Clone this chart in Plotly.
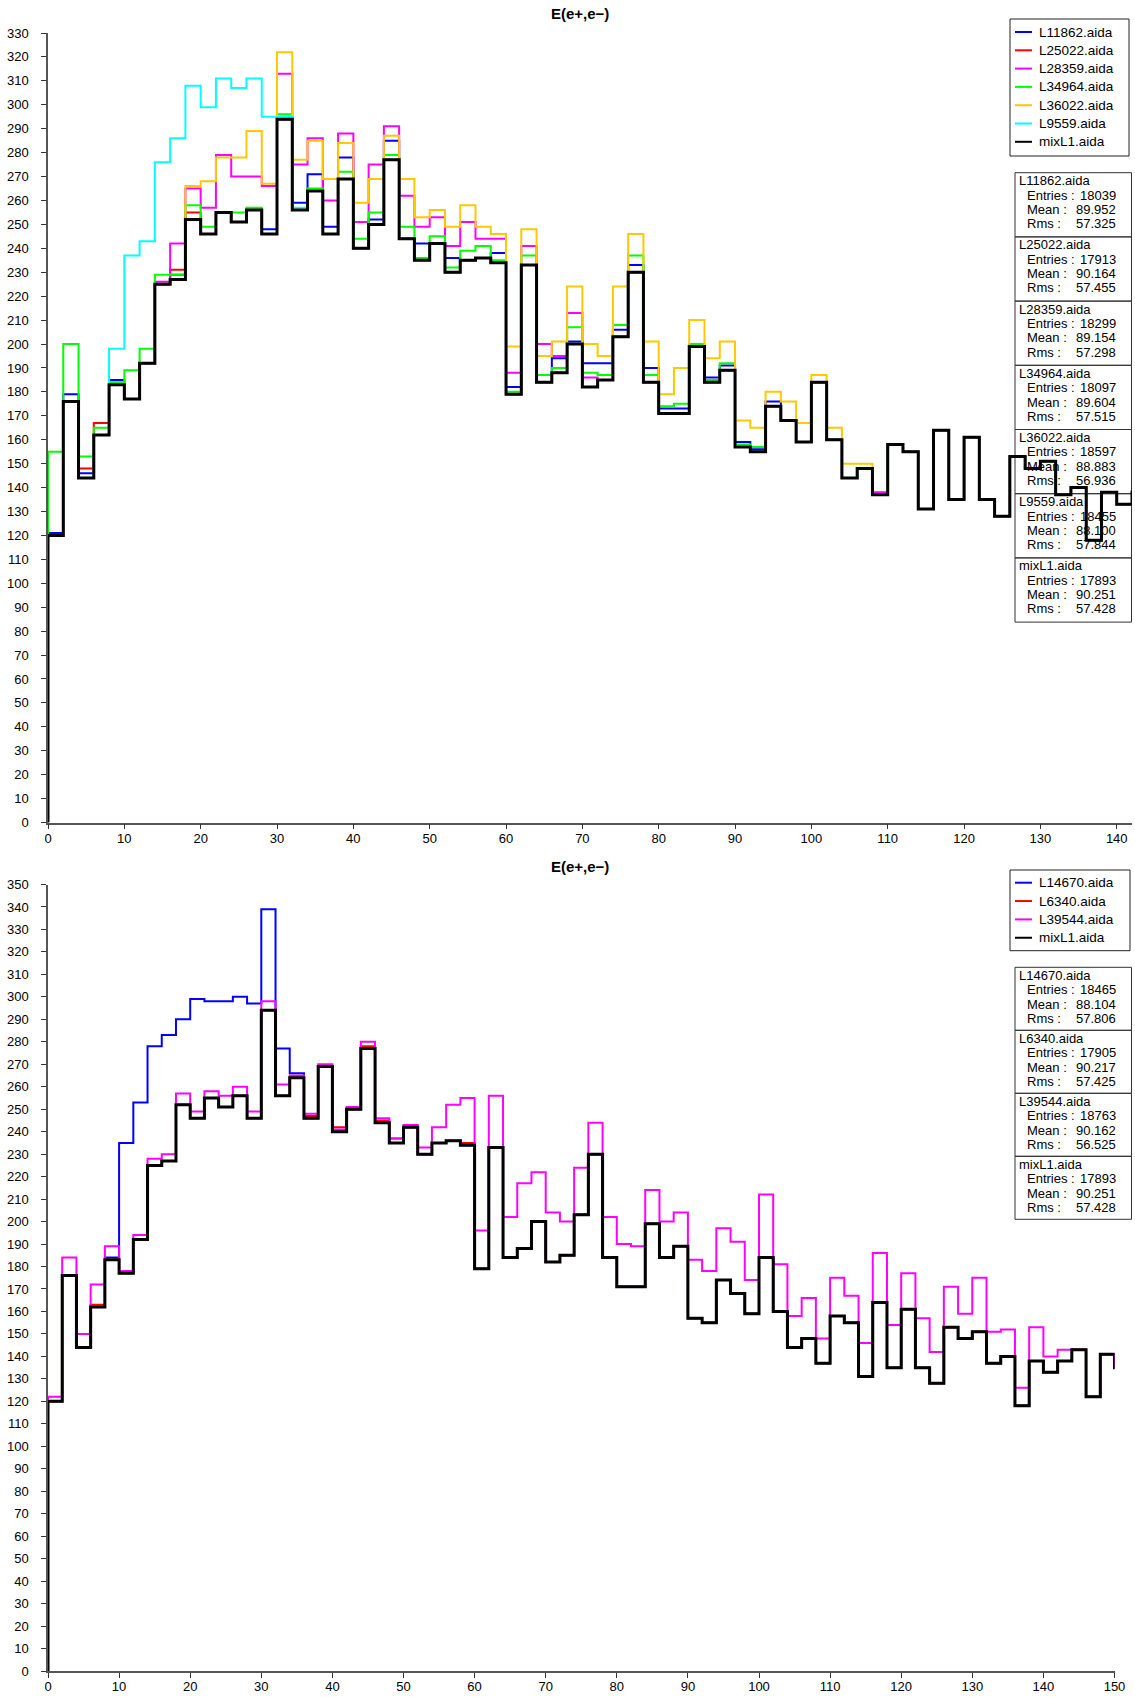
import plotly.graph_objects as go

# ---------------- data ----------------
BIN_WIDTH = 2

# mixL1.aida (same histogram in both panels), bins of width 2 starting at 0
mix_values = [120,176,144,162,183,177,192,225,227,252,
              246,255,251,256,246,294,256,264,246,269,
              240,250,277,244,235,242,230,235,236,234,
              179,233,184,188,200,182,185,203,230,184,
              171,171,199,184,189,157,155,174,168,159,
              184,160,144,148,137,158,155,131,164,135,
              161,135,128,153,148,151,137,140,118,138,
              133,138,143,122,141,135]

# ---- top panel ----
L11862 = [121,179,146,162,185,177,192,225,229,252,
          246,255,251,256,248,294,259,271,249,278,
          240,252,285,244,242,242,236,235,236,238,
          182,233,184,194,201,192,192,206,233,190,
          173,173,199,186,191,159,156,176,168,159,
          184,160,144,148,137,158,155,131,164,135,
          161,135,128,153,148,151,137,140,118,138,133]
L25022 = [120,176,148,167,183,177,192,225,231,255,
          246,255,251,256,246,294,256,264,246,269,
          240,250,277,244,235,242,230,235,236,234,
          179,233,184,188,200,182,185,203,230,184,
          171,171,199,184,189,157,155,174,168,159,
          184,160,144,148,137,158,155,131,164,135,
          161,135,128,153,148,151,137,140,118,138,133]
L28359 = [120,176,144,162,183,177,192,226,242,265,
          257,279,270,270,266,313,275,286,260,288,
          251,275,291,262,249,253,241,251,244,244,
          188,241,200,195,213,186,185,203,230,184,
          171,171,199,184,189,157,155,174,168,159,
          184,160,144,148,138,158,155,131,164,135,
          161,135,128,153,148,151,137,140,118,138,133]
L34964 = [155,200,153,165,184,189,198,229,229,258,
          249,255,255,257,246,296,256,265,246,272,
          244,255,279,249,236,245,232,239,241,235,
          180,237,187,190,207,188,187,208,237,187,
          174,175,200,185,192,158,157,174,168,159,
          184,160,144,148,137,158,155,131,164,135,
          161,135,128,153,148,151,137,140,118,138,133]
L36022 = [120,176,144,162,183,177,192,225,227,266,
          268,278,278,289,267,322,277,285,269,284,
          259,269,287,269,253,256,249,258,249,246,
          199,248,195,201,224,200,195,224,246,201,
          179,190,210,194,201,168,165,180,176,167,
          187,165,150,150,137,158,155,131,164,135,
          161,135,128,153,148,151,137,140,118,138,133]
L9559 = [120,176,144,162,198,237,243,276,286,308,
         299,311,307,311,295,295,257,264,246,269,
         240,250,277,244,235,242,230,235,236,234,
         179,233,184,188,200,182,185,203,230,184,
         171,171,199,184,189,157,155,174,168,159,
         184,160,144,148,137,158,155,131,164,135,
         161,135,128,153,148,151,137,140,118,138,133]

top_names = ["L11862.aida", "L25022.aida", "L28359.aida", "L34964.aida",
             "L36022.aida", "L9559.aida", "mixL1.aida"]
top_entries = [18039, 17913, 18299, 18097, 18597, 18455, 17893]
top_means = ["89.952", "90.164", "89.154", "89.604", "88.883", "88.100", "90.251"]
top_rms = ["57.325", "57.455", "57.298", "57.515", "56.936", "57.844", "57.428"]

# ---- bottom panel ----
L14670 = [120,176,144,162,184,235,253,278,283,290,
          299,298,298,300,297,339,277,266,246,269,
          240,250,277,244,235,242,230,235,236,234,
          179,233,184,188,200,182,185,203,230,184,
          171,171,199,184,189,157,155,174,168,159,
          184,160,144,148,137,158,155,131,164,135,
          161,135,128,153,148,151,137,140,118,138,
          133,138,143,122,141,135]
L6340 = [120,176,144,163,183,177,192,225,227,252,
         246,255,251,256,246,294,256,264,247,269,
         242,250,278,245,237,242,230,235,236,235,
         179,233,184,188,200,182,185,203,230,184,
         171,171,199,184,189,157,155,174,168,159,
         184,160,144,148,137,158,155,131,164,135,
         161,135,128,153,148,151,137,140,118,138,
         133,138,143,122,141,135]
L39544 = [122,184,150,172,189,178,194,228,230,257,
          249,258,256,260,249,298,261,265,248,270,
          241,251,280,246,237,243,233,242,252,255,
          196,256,202,217,222,204,200,224,244,202,
          190,189,214,200,204,183,178,197,191,174,
          212,181,158,166,148,175,167,146,186,154,
          177,157,142,171,159,175,151,152,126,153,
          140,143,143,122,141,135]

bot_names = ["L14670.aida", "L6340.aida", "L39544.aida", "mixL1.aida"]
bot_entries = [18465, 17905, 18763, 17893]
bot_means = ["88.104", "90.217", "90.162", "90.251"]
bot_rms = ["57.806", "57.425", "56.525", "57.428"]

title_text = "E(e+,e\u2212)"

# ---------------- styling ----------------
W, H = 1135, 1697
ML, MR, MT, MB = 48, 3, 33, 26
PW, PH = W - ML - MR, H - MT - MB
FONT = "Liberation Sans, Arial, Helvetica, sans-serif"

def px(x):
    return (x - ML) / PW

def py(y):
    return (H - MB - y) / PH

top_colors = ["#0000ff", "#ff0000", "#ff00ff", "#00ff00", "#ffc800", "#00ffff", "#000000"]
bot_colors = ["#0000ff", "#ff0000", "#ff00ff", "#000000"]


def step_xy(values):
    xs, ys = [0], [0]
    for i, v in enumerate(values):
        xs.append(i * BIN_WIDTH)
        ys.append(v)
    xs.append(len(values) * BIN_WIDTH)
    ys.append(values[-1])
    return xs, ys


fig = go.Figure()

top_series = [L11862, L25022, L28359, L34964, L36022, L9559, mix_values]
for name, vals, col in zip(top_names, top_series, top_colors):
    xs, ys = step_xy(vals)
    fig.add_trace(go.Scatter(x=xs, y=ys, mode="lines", name=name,
                             line=dict(shape="hv", color=col,
                                       width=3 if col == "#000000" else 2),
                             xaxis="x", yaxis="y", showlegend=False))

bot_series = [L14670, L6340, L39544, mix_values]
for name, vals, col in zip(bot_names, bot_series, bot_colors):
    xs, ys = step_xy(vals)
    fig.add_trace(go.Scatter(x=xs, y=ys, mode="lines", name=name,
                             line=dict(shape="hv", color=col,
                                       width=3 if col == "#000000" else 2),
                             xaxis="x2", yaxis="y2", showlegend=False))

top_ydom = [py(822.5), 1.0]
bot_ydom = [0.0, py(884.5)]
bot_xdom = [0.0, px(1114.5)]

axis_common = dict(showgrid=False, zeroline=False, showline=True, automargin=False,
                   linecolor="#555555", linewidth=1.5,
                   ticks="outside", ticklen=5, tickwidth=1.3, tickcolor="#333333",
                   tickfont=dict(family=FONT, size=13, color="#000000"),
                   dtick=10, tick0=0)
inner_common = dict(showgrid=False, zeroline=False, showline=False, automargin=False,
                    ticks="inside", ticklen=5, tickwidth=1.3, tickcolor="#333333",
                    showticklabels=False, dtick=10, tick0=0)

fig.update_layout(
    template="none",
    width=W, height=H, autosize=False,
    margin=dict(l=ML, r=MR, t=MT, b=MB, pad=0, autoexpand=False),
    paper_bgcolor="white", plot_bgcolor="white",
    showlegend=False,
    xaxis=dict(domain=[0, 1], range=[0, 142], anchor="y", ticklabelstandoff=-2, **axis_common),
    yaxis=dict(domain=top_ydom, range=[0, 330], anchor="x", ticklabelstandoff=10, **axis_common),
    xaxis2=dict(domain=bot_xdom, range=[0, 150], anchor="y2", ticklabelstandoff=-2, **axis_common),
    yaxis2=dict(domain=bot_ydom, range=[0, 350], anchor="x2", ticklabelstandoff=10, **axis_common),
    xaxis3=dict(overlaying="x", anchor="y", range=[0, 142], **inner_common),
    yaxis3=dict(overlaying="y", anchor="x", range=[0, 330], **inner_common),
    xaxis4=dict(overlaying="x2", anchor="y2", range=[0, 150], **inner_common),
    yaxis4=dict(overlaying="y2", anchor="x2", range=[0, 350], **inner_common),
)

shapes = []
annotations = []

# titles
for ty in (13, 866):
    annotations.append(dict(x=px(580), y=py(ty), xref="paper", yref="paper",
                            text="<b>%s</b>" % title_text, showarrow=False,
                            xanchor="center", yanchor="middle",
                            font=dict(family=FONT, size=15, color="#000000")))


def legend_box(x0, x1, y0, y1, first_y, step, names, colors):
    shapes.append(dict(type="rect", xref="paper", yref="paper",
                       x0=px(x0), x1=px(x1), y0=py(y1), y1=py(y0),
                       line=dict(color="#222222", width=1), fillcolor="white", layer="above"))
    for i, (n, c) in enumerate(zip(names, colors)):
        yy = first_y + i * step
        shapes.append(dict(type="line", xref="paper", yref="paper",
                           x0=px(x0 + 5), x1=px(x0 + 22), y0=py(yy), y1=py(yy),
                           line=dict(color=c, width=2), layer="above"))
        annotations.append(dict(x=px(x0 + 27), y=py(yy), xref="paper", yref="paper",
                                text=n, showarrow=False, xanchor="left", yanchor="middle",
                                font=dict(family=FONT, size=13.5, color="#000000")))


def stats_box(x0, x1, top, block_h, names, entries, means, rms):
    for i, n in enumerate(names):
        bt = top + i * block_h
        shapes.append(dict(type="rect", xref="paper", yref="paper",
                           x0=px(x0), x1=px(x1), y0=py(bt + block_h), y1=py(bt),
                           line=dict(color="#333333", width=1), layer="below"))
        rows = [(n, None, 8), ("Entries :", str(entries[i]), 22.5),
                ("Mean :", means[i], 36.8), ("Rms :", rms[i], 51)]
        for j, (lab, val, dy) in enumerate(rows):
            lx = x0 + 2 if j == 0 else x0 + 10
            annotations.append(dict(x=px(lx), y=py(bt + dy), xref="paper", yref="paper",
                                    text=lab, showarrow=False, xanchor="left", yanchor="middle",
                                    font=dict(family=FONT, size=13, color="#000000")))
            if val is not None:
                annotations.append(dict(x=px(x1 - 14), y=py(bt + dy), xref="paper", yref="paper",
                                        text=val, showarrow=False, xanchor="right", yanchor="middle",
                                        font=dict(family=FONT, size=13, color="#000000")))


legend_box(1010, 1129, 19, 156, 32, 18.3, top_names, top_colors)
stats_box(1015, 1131.5, 172.7, 64.2, top_names, top_entries, top_means, top_rms)
legend_box(1010, 1130, 870, 950.7, 882.7, 18.35, bot_names, bot_colors)
stats_box(1015, 1131.5, 967.3, 63.0, bot_names, bot_entries, bot_means, bot_rms)

fig.update_layout(shapes=shapes, annotations=annotations)

fig.write_html("out.html", config={"displayModeBar": False},
               post_script="document.body.style.margin='0';")
